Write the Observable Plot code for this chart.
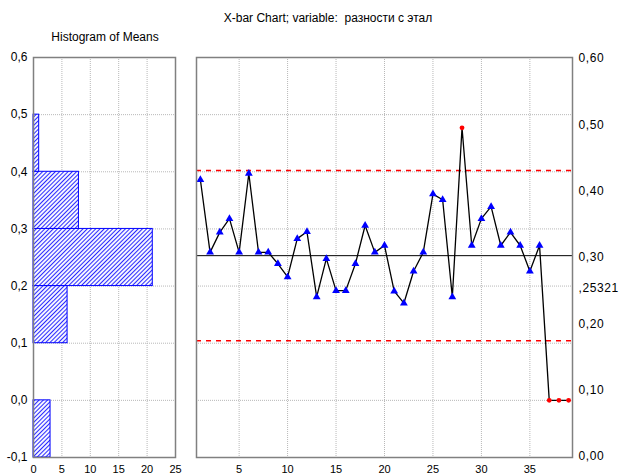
<!DOCTYPE html>
<html>
<head>
<meta charset="utf-8">
<script src="https://cdn.jsdelivr.net/npm/d3@7"></script>
<script src="https://cdn.jsdelivr.net/npm/@observablehq/plot@0.6"></script>
<style>
  body { margin: 0; background: #fff; }
  #wrap { position: relative; width: 621px; height: 476px; font-family: "Liberation Sans", Arial, sans-serif; overflow: hidden; }
  #wrap svg { position: absolute; left: 0; top: 0; background: transparent !important; }
  .ttl { position: absolute; white-space: pre; font-size: 12px; line-height: 14px; color: #000; transform: translateX(-50%); }
</style>
</head>
<body>
<div id="wrap">
  <div class="ttl" id="title" style="left:328px; top:11px;"></div>
  <div class="ttl" id="htitle" style="left:105px; top:30px;"></div>
</div>
<script>
// ---- data ----
const chartTitle = "X-bar Chart; variable:  разности с этал";
const histTitle = "Histogram of Means";

const samples = [1,2,3,4,5,6,7,8,9,10,11,12,13,14,15,16,17,18,19,20,21,22,23,24,25,26,27,28,29,30,31,32,33,34,35,36,37,38,39];
const means = [0.386,0.259,0.294,0.318,0.259,0.397,0.259,0.259,0.239,0.216,0.283,0.295,0.181,0.248,0.192,0.192,0.239,0.306,0.259,0.271,0.191,0.170,0.226,0.259,0.361,0.351,0.181,0.477,0.271,0.318,0.339,0.271,0.294,0.271,0.226,0.271,0.0,0.0,0.0];
const outOfControl = [28,37,38,39];
const centerLine = 0.25321;
const upperLimit = 0.4022;
const lowerLimit = 0.1042;

const binStart = [-0.1, 0.1, 0.2, 0.3, 0.4];
const binEnd   = [ 0.0, 0.2, 0.3, 0.4, 0.5];
const binCount = [3, 6, 21, 8, 1];

const histXTicks = [0, 5, 10, 15, 20, 25];
const histYTicks = [-0.1, 0, 0.1, 0.2, 0.3, 0.4, 0.5, 0.6];
const gridYValues = [0, 0.1, 0.2, 0.3, 0.4, 0.5];
const histGridX = [5, 10, 15, 20];
const chartXTicks = [5, 10, 15, 20, 25, 30, 35];
const rightAxisTicks = [0, 0.1, 0.2, 0.25321, 0.3, 0.4, 0.5, 0.6];

// ---- build tables ----
const points = samples.map((s, i) => ({sample: s, mean: means[i], out: outOfControl.includes(s)}));
const bins = binStart.map((b, i) => ({y1: b, y2: binEnd[i], count: binCount[i]}));

const W = 621, H = 476;
const font = {fontFamily: '"Liberation Sans", Arial, sans-serif', fontSize: "12px", color: "#000", background: "transparent"};
const gridStyle = {stroke: "#b8b8b8", strokeDasharray: "1,1", strokeWidth: 1};
const frameColor = "#808080";
const fmt1 = v => v.toFixed(1).replace(".", ",");

document.getElementById("title").textContent = chartTitle;
document.getElementById("htitle").textContent = histTitle;

// ---- histogram of means ----
const hist = Plot.plot({
  width: W, height: H,
  marginLeft: 33, marginRight: W - 175, marginTop: 57, marginBottom: 19,
  style: font,
  x: {domain: [0, 25]},
  y: {domain: [-0.1, 0.6]},
  marks: [
    Plot.ruleX(histGridX, gridStyle),
    Plot.ruleY(gridYValues, gridStyle),
    Plot.rect(bins, {x1: () => 0, x2: "count", y1: "y1", y2: "y2", fill: "url(#hatch)", stroke: "#0000ff", strokeWidth: 1}),
    Plot.frame({stroke: frameColor, strokeWidth: 1.5}),
    Plot.axisY(histYTicks, {anchor: "left", label: null, tickSize: 0, tickPadding: 6, tickFormat: fmt1}),
    Plot.axisX(histXTicks, {anchor: "bottom", label: null, tickSize: 0, tickPadding: 8, fontSize: 11})
  ]
});

// ---- X-bar chart ----
const chart = Plot.plot({
  width: W, height: H,
  marginLeft: 196, marginRight: W - 572, marginTop: 57, marginBottom: 19,
  style: font,
  x: {domain: [0.6, 39.4]},
  y: {domain: [-0.1, 0.6], axis: null},
  marks: [
    Plot.ruleX(chartXTicks, gridStyle),
    Plot.ruleY(gridYValues, gridStyle),
    Plot.ruleY([upperLimit, lowerLimit], {stroke: "#ff0000", strokeWidth: 1.6, strokeDasharray: "5,5"}),
    Plot.ruleY([centerLine], {stroke: "#000", strokeWidth: 1}),
    Plot.line(points, {x: "sample", y: "mean", stroke: "#000", strokeWidth: 1.3}),
    Plot.dot(points.filter(d => !d.out), {x: "sample", y: "mean", symbol: "triangle", fill: "#0000ff", stroke: "none", r: 2.9}),
    Plot.dot(points.filter(d => d.out), {x: "sample", y: "mean", fill: "#ff0000", stroke: "none", r: 2.4}),
    Plot.frame({stroke: frameColor, strokeWidth: 1.5}),
    Plot.axisX(chartXTicks, {anchor: "bottom", label: null, tickSize: 0, tickPadding: 8, fontSize: 11})
  ]
});

// ---- right-hand axis (own scale, as in the reference) ----
const right = Plot.plot({
  width: W, height: H,
  marginLeft: 571, marginRight: W - 572, marginTop: 58, marginBottom: 20,
  style: {...font, letterSpacing: "0.6px"},
  y: {domain: [0, 0.6]},
  marks: [
    Plot.axisY(rightAxisTicks, {anchor: "right", label: null, tickSize: 0, tickPadding: 6,
      tickFormat: v => v === centerLine ? ",25321" : v.toFixed(2).replace(".", ",")})
  ]
});

const wrap = document.getElementById("wrap");
[hist, chart, right].forEach(svg => wrap.appendChild(svg));

d3.select(hist).insert("defs", ":first-child").html(
  '<pattern id="hatch" patternUnits="userSpaceOnUse" width="3" height="3" patternTransform="rotate(45)">' +
  '<rect width="3" height="3" fill="#ffffff"/>' +
  '<line x1="1.5" y1="0" x2="1.5" y2="3" stroke="#2a2aff" stroke-width="1.1"/></pattern>'
);
</script>
</body>
</html>
